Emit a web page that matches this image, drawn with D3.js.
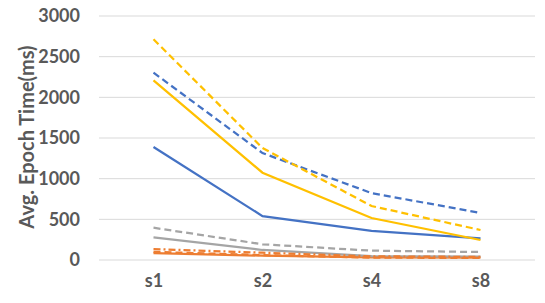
<!DOCTYPE html>
<html>
<head>
<meta charset="utf-8">
<script src="https://cdn.jsdelivr.net/npm/d3@7"></script>
<style>
  body { margin: 0; background: #fff; }
  text { font-family: Lato, "Open Sans", sans-serif; font-weight: bold; fill: #595959; }
</style>
</head>
<body>
<div id="chart"></div>
<script>
const width = 545;
const height = 303;

const categories = ['s1', 's2', 's4', 's8'];
const yTicks = [0, 500, 1000, 1500, 2000, 2500, 3000];

// values
const blueSolid = [1390, 540, 357, 267];
const orangeSolid = [86, 53, 33, 28];
const graySolid = [279, 123, 49, 41];
const yellowSolid = [2209, 1073, 516, 246];
const blueDashed = [2303, 1315, 823, 578];
const orangeDashed = [100, 60, 30, 25];
const grayDashed = [397, 193, 115, 98];
const yellowDashed = [2714, 1377, 664, 369];
const orangeDashDot = [135, 90, 45, 38];

const series = [
  {name: 'blueSolid', values: blueSolid, color: '#4472C4', dash: null},
  {name: 'orangeSolid', values: orangeSolid, color: '#ED7D31', dash: null},
  {name: 'graySolid', values: graySolid, color: '#A5A5A5', dash: null},
  {name: 'yellowSolid', values: yellowSolid, color: '#FFC000', dash: null},
  {name: 'blueDashed', values: blueDashed, color: '#4472C4', dash: '7,4'},
  {name: 'orangeDashed', values: orangeDashed, color: '#ED7D31', dash: '7,4'},
  {name: 'grayDashed', values: grayDashed, color: '#A5A5A5', dash: '7,4'},
  {name: 'yellowDashed', values: yellowDashed, color: '#FFC000', dash: '7,4'},
  {name: 'orangeDashDot', values: orangeDashDot, color: '#ED7D31', dash: '7,3,2,3'}
];

const svg = d3.select('#chart')
  .append('svg')
  .attr('width', width)
  .attr('height', height);

const x = d3.scalePoint()
  .domain(categories)
  .range([99, 535])
  .padding(0.5);

const y = d3.scaleLinear()
  .domain([0, 3000])
  .range([260, 16]);

// gridlines
svg.append('g')
  .selectAll('line')
  .data(yTicks)
  .enter().append('line')
  .attr('x1', 99)
  .attr('x2', 535)
  .attr('y1', d => y(d))
  .attr('y2', d => y(d))
  .style('stroke', '#D9D9D9')
  .style('stroke-width', 1);

// y axis labels
let yAxis = svg.append('g')
  .attr('transform', 'translate(86, 0)')
  .call(d3.axisLeft(y).tickValues(yTicks).tickFormat(d3.format('d')).tickSize(0).tickPadding(6));
yAxis.select('.domain').remove();
yAxis.selectAll('text')
  .style('font-size', '18px')
  .style('font-family', 'Lato, sans-serif')
  .style('font-weight', 'bold')
  .style('fill', '#595959');

// x axis labels
let xAxis = svg.append('g')
  .attr('transform', 'translate(0, 270)')
  .call(d3.axisBottom(x).tickSize(0).tickPadding(4));
xAxis.select('.domain').remove();
xAxis.selectAll('text')
  .style('font-size', '18px')
  .style('font-family', 'Lato, sans-serif')
  .style('font-weight', 'bold')
  .style('fill', '#595959');

// y title
svg.append('text')
  .attr('transform', 'translate(34, 137) rotate(-90)')
  .style('text-anchor', 'middle')
  .style('font-size', '20px')
  .text('Avg. Epoch Time(ms)');

const line = d3.line()
  .x((d, i) => x(categories[i]))
  .y(d => y(d));

svg.append('g')
  .selectAll('path')
  .data(series)
  .enter().append('path')
  .attr('d', d => line(d.values))
  .style('fill', 'none')
  .style('stroke', d => d.color)
  .style('stroke-width', 2.25)
  .style('stroke-dasharray', d => d.dash);
</script>
</body>
</html>
